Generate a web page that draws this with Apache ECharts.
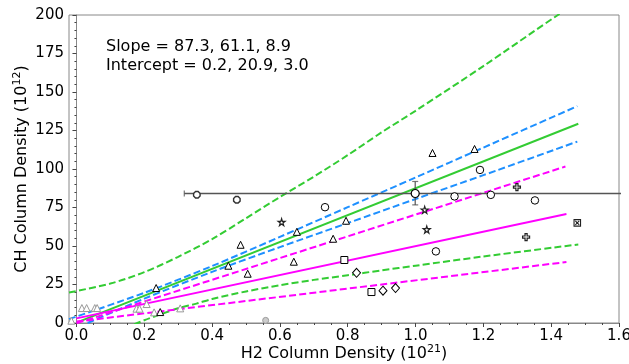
<!DOCTYPE html>
<html>
<head>
<meta charset="utf-8">
<script src="https://cdn.jsdelivr.net/npm/echarts@6/dist/echarts.min.js"></script>
<style>html,body{margin:0;padding:0;background:#fff}#c{width:629px;height:364px}</style>
</head>
<body>
<div id="c"></div>
<script>
// ---- data ----
const xMajorTicks = [0.0, 0.2, 0.4, 0.6, 0.8, 1.0, 1.2, 1.4, 1.6];
const xMinorTicks = [0.05, 0.1, 0.15, 0.25, 0.3, 0.35, 0.45, 0.5, 0.55, 0.65, 0.7, 0.75, 0.85, 0.9, 0.95, 1.05, 1.1, 1.15, 1.25, 1.3, 1.35, 1.45, 1.5, 1.55];
const yTicks = [0, 25, 50, 75, 100, 125, 150, 175, 200];

const triX = [0.235, 0.247, 0.448, 0.484, 0.505, 0.641, 0.65, 0.757, 0.795, 1.05, 1.174];
const triY = [22.7, 7.1, 37.2, 50.8, 32.0, 39.8, 59.2, 54.7, 66.4, 110.4, 113.0];
const grayTriX = [-0.015, 0.016, 0.03, 0.054, 0.061, 0.177, 0.186, 0.207, 0.229, 0.306];
const grayTriY = [1.5, 9.7, 9.7, 9.7, 9.7, 9.3, 9.3, 12.3, 6.9, 9.5];
const grayCircX = [0.558];
const grayCircY = [1.7];
const circX = [0.733, 1.06, 1.115, 1.19, 1.222, 1.352];
const circY = [75.2, 46.5, 82.2, 99.4, 83.2, 79.6];
const bigCircX = [0.999];
const bigCircY = [84.1];
const bigCircYLow = [76.7];
const bigCircYHigh = [91.9];
const bigCircXLow = [0.318];
const bigCircXHigh = [1.75];
const octX = [0.355, 0.473];
const octY = [83.3, 80.0];
const starX = [0.605, 1.027, 1.033];
const starY = [65.5, 73.5, 60.7];
const sqX = [0.79, 0.87];
const sqY = [40.9, 20.1];
const diaX = [0.826, 0.904, 0.941];
const diaY = [32.6, 21.0, 22.7];
const plusX = [1.299, 1.326];
const plusY = [88.2, 55.8];
const xsqX = [1.477];
const xsqY = [65.0];

const greenFitX = [0.0, 1.48];
const greenFitY = [0.2, 129.4];
const greenUpX = [-0.022, 0.1, 0.2, 0.3, 0.4, 0.5, 0.6, 0.7, 0.8, 0.9, 1.0, 1.2, 1.42, 1.48];
const greenUpY = [19.8, 25.6, 33.0, 43.0, 54.5, 68.0, 81.8, 95.0, 109.0, 123.8, 137.8, 166.8, 200.0, 207.6];
const greenLoX = [0.17, 0.2, 0.25, 0.3, 0.354, 0.4, 0.5, 0.6, 0.7, 0.8, 0.9, 1.0, 1.2, 1.48];
const greenLoY = [-1.0, 1.8, 5.8, 9.6, 12.6, 15.6, 20.5, 24.5, 28.0, 31.0, 34.2, 37.2, 43.2, 51.0];
const blueUpX = [-0.022, 0.2, 0.4, 0.6, 0.8, 1.0, 1.2, 1.477];
const blueUpY = [2.5, 19.6, 37.0, 55.9, 75.2, 94.5, 113.9, 140.8];
const blueLoX = [-0.022, 0.2, 0.4, 0.6, 0.8, 1.0, 1.2, 1.477];
const blueLoY = [-5.3, 15.8, 33.2, 49.3, 64.9, 80.5, 96.0, 117.8];
const magFitX = [0.0, 1.445];
const magFitY = [3.0, 70.8];
const magUpX = [0.0, 1.442];
const magUpY = [-0.2, 101.6];
const magLoX = [0.0, 1.445];
const magLoY = [0.9, 39.6];

const zip = (a, b) => a.map((v, i) => [v, b[i]]);
const FONT = 'DejaVu Sans';
const GREEN = '#33cc33', BLUE = '#1e90ff', MAG = '#ff00ff';

const chart = echarts.init(document.getElementById('c'), null, {renderer: 'canvas'});

function lineSeries(xs, ys, color, dashed, smooth) {
  return {
    type: 'line', data: zip(xs, ys), symbol: 'none', smooth: smooth ? 0.3 : false,
    clip: true, z: 2, silent: true,
    lineStyle: {color: color, width: 2, type: dashed ? [7, 3.2] : 'solid'}
  };
}
function markerSeries(xs, ys, symbol, size, stroke, fill, lw) {
  return {
    type: 'scatter', data: zip(xs, ys), symbol: symbol, symbolSize: size, z: 5, clip: true,
    itemStyle: {color: fill || '#fff', borderColor: stroke || '#000', borderWidth: lw || 1, opacity: 1}
  };
}

const STAR = 'path://M50,0 L61,35 L98,35 L68,57 L79,91 L50,70 L21,91 L32,57 L2,35 L39,35 Z';
const PLUS = 'path://M35,0H65V35H100V65H65V100H35V65H0V35H35Z';
const OCT = 'path://M30,0H70L100,30V70L70,100H30L0,70V30Z';
const XSQ = 'path://M0,0H100V100H0Z M20,20L80,80 M80,20L20,80';

const series = [
  lineSeries(greenUpX, greenUpY, GREEN, true, true),
  lineSeries(greenLoX, greenLoY, GREEN, true, true),
  lineSeries(blueUpX, blueUpY, BLUE, true, true),
  lineSeries(blueLoX, blueLoY, BLUE, true, true),
  lineSeries(greenFitX, greenFitY, GREEN, false, false),
  lineSeries(magUpX, magUpY, MAG, true, false),
  lineSeries(magLoX, magLoY, MAG, true, false),
  lineSeries(magFitX, magFitY, MAG, false, false),
  // error bars of the large circle
  {type: 'line', data: [[bigCircXLow[0], bigCircY[0]], [bigCircXHigh[0], bigCircY[0]]], symbol: 'none', clip: true, z: 3,
   lineStyle: {color: '#555', width: 1.5}},
  {type: 'line', data: [[bigCircX[0], bigCircYLow[0]], [bigCircX[0], bigCircYHigh[0]]], symbol: 'none', clip: true, z: 3,
   lineStyle: {color: '#555', width: 1.2}},
  {type: 'scatter', data: [[bigCircXLow[0], bigCircY[0]]], symbol: 'rect', symbolSize: [1.2, 6], z: 3,
   itemStyle: {color: '#555'}},
  {type: 'scatter', data: [[bigCircX[0], bigCircYLow[0]], [bigCircX[0], bigCircYHigh[0]]], symbol: 'rect', symbolSize: [6, 1.2], z: 3,
   itemStyle: {color: '#555'}},
  markerSeries(grayTriX, grayTriY, 'triangle', 7, '#999'),
  markerSeries(grayCircX, grayCircY, 'circle', 6, '#999', '#ccc'),
  markerSeries(triX, triY, 'triangle', 7, '#000'),
  markerSeries(circX, circY, 'circle', 7.5, '#000'),
  markerSeries(bigCircX, bigCircY, 'circle', 8, '#000', '#fff', 1.2),
  markerSeries(octX, octY, OCT, 6.5, '#333', '#fff', 1.4),
  markerSeries(starX, starY, STAR, 7, '#222', '#fff', 1.2),
  markerSeries(sqX, sqY, 'rect', 7, '#000'),
  markerSeries(diaX, diaY, 'diamond', [8, 9], '#000'),
  markerSeries(plusX, plusY, PLUS, 7, '#222', '#fff', 1.2),
  markerSeries(xsqX, xsqY, XSQ, 6.5, '#222', '#fff', 1.1)
];

chart.setOption({
  animation: false,
  backgroundColor: '#fff',
  textStyle: {fontFamily: FONT},
  grid: {left: 69, right: 10, top: 15, bottom: 41, outerBoundsMode: 'none', containLabel: false,
    show: true, borderColor: '#888', borderWidth: 1, backgroundColor: 'transparent'},
  xAxis: [{
    type: 'value', min: -0.022, max: 1.6,
    name: 'H2 Column Density (10{sup|21})', nameLocation: 'middle', nameGap: 21, nameMoveOverlap: false,
    nameTextStyle: {fontSize: 16, color: '#000', fontFamily: FONT,
      rich: {sup: {fontSize: 11, verticalAlign: 'top', lineHeight: 19, fontFamily: FONT, color: '#000'}}},
    axisLine: {show: true, onZero: false, lineStyle: {color: '#888', width: 1}},
    axisTick: {show: true, inside: false, length: 4, customValues: xMajorTicks, lineStyle: {color: '#444'}},
    axisLabel: {customValues: xMajorTicks, fontSize: 15, color: '#000', fontFamily: FONT, margin: 6,
      formatter: v => v.toFixed(1)},
    splitLine: {show: false}
  }, {
    type: 'value', min: -0.022, max: 1.6, position: 'bottom',
    axisLine: {show: false},
    axisTick: {show: true, length: 2, customValues: xMinorTicks, lineStyle: {color: '#444'}},
    axisLabel: {show: false},
    splitLine: {show: false}
  }],
  yAxis: {
    type: 'value', min: 0, max: 200, interval: 25,
    name: 'CH Column Density (10{sup|12})', nameLocation: 'middle', nameGap: 38, nameRotate: 90, nameMoveOverlap: false,
    nameTextStyle: {fontSize: 16, color: '#000', fontFamily: FONT,
      rich: {sup: {fontSize: 11, verticalAlign: 'top', lineHeight: 19, fontFamily: FONT, color: '#000'}}},
    axisLine: {show: true, lineStyle: {color: '#888', width: 1}},
    axisTick: {show: true, length: 4, lineStyle: {color: '#444'}},
    minorTick: {show: true, splitNumber: 5, length: 2, lineStyle: {color: '#444'}},
    axisLabel: {fontSize: 15, color: '#000', fontFamily: FONT, margin: 5, customValues: yTicks},
    splitLine: {show: false}
  },
  graphic: [{
    type: 'text', left: 106, top: 37, z: 10,
    style: {text: 'Slope = 87.3, 61.1, 8.9\nIntercept = 0.2, 20.9, 3.0', font: '16px "DejaVu Sans"', fill: '#000', lineHeight: 19}
  }],
  series: series
});
</script>
</body>
</html>
